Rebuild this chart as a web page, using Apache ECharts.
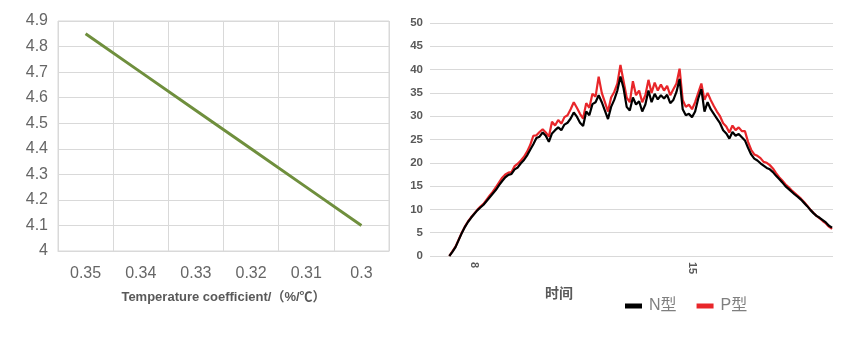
<!DOCTYPE html>
<html>
<head>
<meta charset="utf-8">
<script src="https://cdn.jsdelivr.net/npm/echarts@6/dist/echarts.min.js"></script>
<style>
html,body{margin:0;padding:0;background:#fff;}
#chart{width:864px;height:346px;}
</style>
</head>
<body>
<div id="chart"></div>
<script>
// ---- Left chart data ----
var tempCoeffCategories = ['0.35', '0.34', '0.33', '0.32', '0.31', '0.3'];
var tempCoeffValues = [4.85, 4.70, 4.55, 4.40, 4.25, 4.10];
var leftYMin = 4, leftYMax = 4.9, leftYStep = 0.1;
var leftXName = 'Temperature coefficient/（%/℃）';

// ---- Right chart data ----
var timeHours = [7.2,7.3,7.4,7.5,7.6,7.7,7.8,7.9,8.0,8.1,8.2,8.3,8.4,8.5,8.6,8.7,8.8,8.9,9.0,9.1,
  9.2,9.3,9.4,9.5,9.6,9.7,9.8,9.9,10.0,10.1,10.2,10.3,10.4,10.5,10.6,10.7,10.8,10.9,11.0,11.1,
  11.2,11.3,11.4,11.5,11.6,11.7,11.8,11.9,12.0,12.1,12.2,12.3,12.4,12.5,12.6,12.7,12.8,12.9,13.0,13.1,
  13.2,13.3,13.4,13.5,13.6,13.7,13.8,13.9,14.0,14.1,14.2,14.3,14.4,14.5,14.6,14.7,14.8,14.9,15.0,15.1,
  15.2,15.3,15.4,15.5,15.6,15.7,15.8,15.9,16.0,16.1,16.2,16.3,16.4,16.5,16.6,16.7,16.8,16.9,17.0,17.1,
  17.2,17.3,17.4,17.5,17.6,17.7,17.8,17.9,18.0,18.1,18.2,18.3,18.4,18.5,18.6,18.7,18.8,18.9,19.0,19.1,
  19.2,19.3,19.4,19.5];
var nTypeValues = [0.0,0.9,1.9,3.4,4.9,6.2,7.3,8.2,9.0,9.8,10.4,11.0,11.8,12.6,13.4,14.2,15.2,16.1,16.9,17.4,
  17.6,18.6,19.0,19.9,20.6,21.6,22.8,24.0,25.3,25.6,26.5,25.8,24.5,26.3,27.0,27.6,27.0,28.2,28.6,29.5,
  30.8,29.9,28.6,27.9,31.0,30.2,32.6,33.0,34.5,33.0,31.2,29.4,32.0,33.5,35.5,38.5,36.0,32.0,31.2,34.0,
  32.5,33.2,31.0,32.5,35.5,33.0,34.8,33.6,34.5,33.8,34.6,32.8,33.5,35.2,38.0,31.5,30.2,30.5,29.8,31.0,
  33.8,35.8,31.0,33.0,31.5,30.5,29.5,28.5,27.0,26.3,25.2,26.6,25.8,26.2,25.5,24.8,23.2,21.8,20.9,20.5,
  19.9,19.4,18.9,18.6,18.0,17.2,16.5,15.8,15.0,14.4,13.8,13.2,12.7,12.1,11.4,10.7,9.9,9.2,8.6,8.2,
  7.7,7.2,6.5,6.1];
var pTypeValues = [0.0,1.0,2.0,3.5,5.0,6.3,7.4,8.3,9.1,9.9,10.6,11.2,12.1,13.0,13.8,14.8,15.8,16.8,17.5,17.9,
  18.0,19.3,19.8,20.5,21.3,22.4,23.8,25.8,25.9,26.6,27.2,26.5,25.6,28.8,28.0,29.2,28.4,29.8,30.2,31.5,
  33.0,31.8,30.5,29.5,32.8,31.8,34.8,34.2,38.5,35.0,33.0,31.0,34.0,35.2,37.0,41.0,37.5,34.0,33.0,37.5,
  34.5,35.5,33.0,34.5,37.8,35.0,37.2,35.5,36.8,35.5,36.5,34.5,35.8,37.0,40.2,33.5,32.0,32.5,31.5,33.0,
  35.0,37.0,33.5,35.0,33.5,32.2,31.0,30.0,28.5,27.8,26.5,28.0,27.0,27.6,26.8,26.8,24.5,22.8,21.8,21.5,
  21.0,20.2,20.0,19.5,18.8,17.8,16.9,16.2,15.4,14.8,14.1,13.5,12.9,12.3,11.6,10.8,10.0,9.3,8.6,8.1,
  7.5,7.0,6.3,5.8];
var timeTickLabels = [8, 15];
var rightYMin = 0, rightYMax = 50, rightYStep = 5;
var seriesNames = ['N型', 'P型'];
var rightXName = '时间';

var FONT = "'Liberation Sans', Arial, 'Noto Sans CJK SC', sans-serif";
function pairs(xs, ys) { return xs.map(function (x, i) { return [x, ys[i]]; }); }

var chart = echarts.init(document.getElementById('chart'), null, { renderer: 'canvas' });
chart.setOption({
  animation: false,
  backgroundColor: '#ffffff',
  textStyle: { fontFamily: FONT },
  grid: [
    { left: 58, top: 21, width: 331, height: 230, show: true, borderColor: '#d9d9d9', borderWidth: 1, containLabel: false },
    { left: 430, top: 23, width: 403, height: 233, containLabel: false }
  ],
  xAxis: [
    {
      gridIndex: 0, type: 'category', data: tempCoeffCategories, boundaryGap: true,
      axisLine: { show: true, lineStyle: { color: '#d9d9d9' } },
      axisTick: { show: false },
      splitLine: { show: true, lineStyle: { color: '#d9d9d9', width: 1 } },
      axisLabel: { color: '#666666', fontSize: 16, margin: 15, fontFamily: FONT },
      name: leftXName, nameLocation: 'middle', nameGap: 40,
      nameTextStyle: { color: '#595959', fontSize: 13, fontWeight: 'bold', fontFamily: FONT }
    },
    {
      gridIndex: 1, type: 'value', min: 6.58, max: 19.53,
      axisLine: { show: false }, axisTick: { show: false }, splitLine: { show: false },
      axisLabel: { customValues: timeTickLabels, rotate: -90, color: '#595959', fontSize: 11, fontWeight: 'bold', margin: 6, fontFamily: FONT }
    }
  ],
  yAxis: [
    {
      gridIndex: 0, type: 'value', min: leftYMin, max: leftYMax, interval: leftYStep,
      axisLine: { show: false }, axisTick: { show: false },
      splitLine: { show: true, lineStyle: { color: '#d9d9d9', width: 1 } },
      axisLabel: { color: '#666666', fontSize: 16, margin: 10, fontFamily: FONT,
        formatter: function (v) { return String(Math.round(v * 10) / 10); } }
    },
    {
      gridIndex: 1, type: 'value', min: rightYMin, max: rightYMax, interval: rightYStep,
      axisLine: { show: false }, axisTick: { show: false },
      splitLine: { show: true, lineStyle: { color: '#d9d9d9', width: 1 } },
      axisLabel: { color: '#595959', fontSize: 11.5, fontWeight: 'bold', margin: 7, fontFamily: FONT }
    }
  ],
  legend: {
    data: seriesNames, left: 620, top: 293, itemWidth: 17, itemHeight: 5, itemGap: 20,
    icon: 'rect',
    textStyle: { color: '#7f7f7f', fontSize: 16, fontFamily: FONT, padding: [0, 0, 0, 2] }
  },
  graphic: [
    { type: 'text', left: 545, top: 287, style: { text: rightXName, fill: '#595959', font: 'bold 14px ' + FONT } }
  ],
  series: [
    {
      type: 'line', xAxisIndex: 0, yAxisIndex: 0, data: tempCoeffValues,
      showSymbol: false, symbol: 'none', lineStyle: { color: '#6f8f3d', width: 3 }, z: 3
    },
    {
      name: seriesNames[0], type: 'line', xAxisIndex: 1, yAxisIndex: 1, data: pairs(timeHours, nTypeValues),
      showSymbol: false, symbol: 'none', color: '#000000', lineStyle: { color: '#000000', width: 2.2 }, z: 4
    },
    {
      name: seriesNames[1], type: 'line', xAxisIndex: 1, yAxisIndex: 1, data: pairs(timeHours, pTypeValues),
      showSymbol: false, symbol: 'none', color: '#e8262a', lineStyle: { color: '#e8262a', width: 2.2 }, z: 3
    }
  ]
});
</script>
</body>
</html>
